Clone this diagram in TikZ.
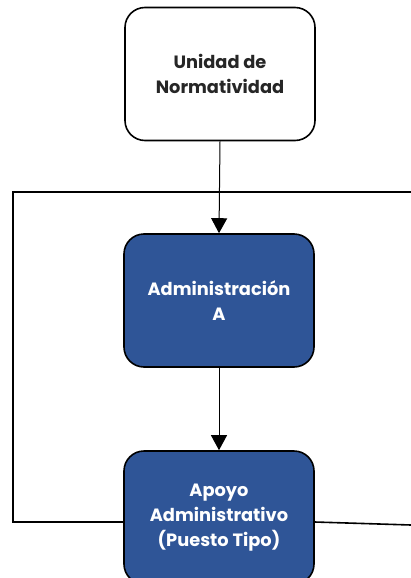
\documentclass[tikz,border=0pt]{standalone}
\usepackage{fontspec}
\setmainfont{Poppins}
\usetikzlibrary{arrows.meta, positioning}
\definecolor{azulorg}{RGB}{47, 85, 151}

\begin{document}
\begin{tikzpicture}[
    x=1pt, y=-1pt,
    font=\fontsize{17.8}{25}\selectfont\bfseries,
    caja/.style={draw, line width=1.6pt, rounded corners=20pt, align=center,
                 minimum width=190pt, minimum height=133pt, inner sep=0pt},
    unidad/.style={caja, fill=white, text=black!85},
    puesto/.style={caja, fill=azulorg, text=white},
    flecha/.style={-{Triangle[length=15pt, width=16pt]}, line width=1pt},
    linea/.style={line width=1.6pt}
  ]
    \useasboundingbox (0,0) rectangle (411,578);
    \node[unidad] (un) at (220,74)    {Unidad de\\Normatividad};
    \node[puesto] (adm) at (219,300.5) {Administración\\A};
    \node[puesto] (apo) at (219,517.5) {Apoyo\\Administrativo\\(Puesto Tipo)};
    \coordinate (esqa) at (13,192);
    \coordinate (esqb) at (13,522);
    \coordinate (dera) at (411,192);
    \coordinate (derb) at (411,525);
    \draw[flecha] (un.south) -- (adm.north);
    \draw[flecha] (adm.south) -- (apo.north);
    \draw[linea] (dera) -- (esqa) -- (esqb) -- (esqb -| apo.west);
    \draw[linea] (apo.east |- esqb) -- (derb);
  \end{tikzpicture}
\end{document}
